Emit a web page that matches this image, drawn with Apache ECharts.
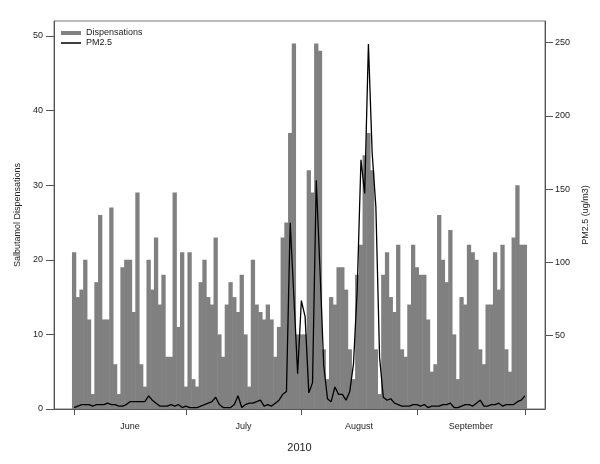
<!DOCTYPE html>
<html>
<head>
<meta charset="utf-8">
<script src="https://cdn.jsdelivr.net/npm/echarts@6/dist/echarts.min.js"></script>
<style>
  html, body { margin: 0; padding: 0; background: #fff; }
  #chart { width: 600px; height: 464px; }
</style>
</head>
<body>
<div id="chart"></div>
<script>
// daily values, 1 June - 30 September 2010
const dispensations = [
  21,15,16,20,12,2,17,26,12,12,27,6,2,19,20,20,13,29,6,3,20,16,23,14,18,7,7,29,11,21,
  3,21,4,3,17,20,15,14,23,10,7,14,17,15,13,18,10,3,20,14,13,12,14,12,7,11,23,25,37,49,10,
  10,10,32,29,49,48,8,4,15,14,19,19,16,8,4,18,22,34,37,32,8,2,18,21,15,13,22,8,7,14,22,
  19,18,18,12,5,6,26,20,17,24,10,4,15,14,22,21,20,8,6,14,14,21,16,22,8,5,23,30,22,22
];
const pm25 = [
  1,2,3,3,3,2,3,3,3,4,3,3,2,2,3,5,5,5,5,5,9,6,4,2,2,2,3,2,3,1,
  2,1,1,1,2,3,4,5,8,3,1,1,1,3,9,1,3,4,4,5,6,2,3,2,4,6,10,12,127,76,24,
  74,63,11,18,156,95,30,7,5,15,10,10,6,12,31,82,170,147,249,175,138,35,8,6,7,4,3,2,2,2,3,
  3,2,3,1,2,2,2,3,3,4,1,1,2,3,3,2,4,6,2,2,3,3,4,2,3,3,3,5,6,9
];
// month boundaries (day index) and month label positions
const monthTicks = [0, 30, 61, 92, 121];
const monthNames = ['June', 'July', 'August', 'September'];
const monthMids = [15, 45.5, 76.5, 106.5];
const leftTicks = [0, 10, 20, 30, 40, 50];
const rightTicks = [50, 100, 150, 200, 250];

const font = 'Liberation Sans, Arial, sans-serif';
const chart = echarts.init(document.getElementById('chart'));

chart.setOption({
  animation: false,
  backgroundColor: '#fff',
  textStyle: { fontFamily: font },
  grid: { left: 54, right: 55, top: 21, bottom: 55, show: true, borderColor: '#777', borderWidth: 1 },
  legend: {
    left: 56, top: 23, orient: 'vertical',
    itemWidth: 20, itemHeight: 4, itemGap: 0,
    textStyle: { fontFamily: font, fontSize: 9, color: '#222', lineHeight: 10 },
    data: [
      { name: 'Dispensations', icon: 'rect' },
      { name: 'PM2.5', icon: 'path://M0,0H40V3H0Z' }
    ]
  },
  xAxis: {
    type: 'value', min: -5.4, max: 126.4,
    name: '2010', nameLocation: 'middle', nameGap: 33,
    nameTextStyle: { fontFamily: font, fontSize: 11, color: '#222' },
    splitLine: { show: false },
    axisLine: { show: true, onZero: false, lineStyle: { color: '#555' } },
    axisTick: { show: true, length: 6, customValues: monthTicks, lineStyle: { color: '#555' } },
    axisLabel: {
      customValues: monthMids, margin: 13, fontSize: 9, color: '#222',
      formatter: v => monthNames[monthMids.indexOf(v)]
    }
  },
  yAxis: [{
    type: 'value', min: 0, max: 52, position: 'left',
    name: 'Salbutamol Dispensations', nameLocation: 'middle', nameGap: 29, nameRotate: 90,
    nameTextStyle: { fontFamily: font, fontSize: 9, color: '#222' },
    splitLine: { show: false },
    axisLine: { show: true, onZero: false, lineStyle: { color: '#555' } },
    axisTick: { show: true, length: 8, customValues: leftTicks, lineStyle: { color: '#555' } },
    axisLabel: { customValues: leftTicks, margin: 11, fontSize: 9, color: '#222' }
  }, {
    type: 'value', min: 0, max: 264.7, position: 'right',
    name: 'PM2.5 (ug/m3)', nameLocation: 'middle', nameGap: 31, nameRotate: 90,
    nameTextStyle: { fontFamily: font, fontSize: 9, color: '#222' },
    splitLine: { show: false },
    axisLine: { show: true, onZero: false, lineStyle: { color: '#555' } },
    axisTick: { show: true, length: 8, customValues: rightTicks, lineStyle: { color: '#555' } },
    axisLabel: { customValues: rightTicks, margin: 10, fontSize: 9, color: '#222' }
  }],
  series: [{
    name: 'Dispensations', type: 'bar', yAxisIndex: 0,
    barWidth: 4.3,
    itemStyle: { color: '#808080' },
    data: dispensations.map((v, i) => [i, v])
  }, {
    name: 'PM2.5', type: 'line', yAxisIndex: 1,
    symbol: 'none',
    lineStyle: { color: '#000', width: 1.3 },
    itemStyle: { color: '#000' },
    data: pm25.map((v, i) => [i, v])
  }]
});
</script>
</body>
</html>
